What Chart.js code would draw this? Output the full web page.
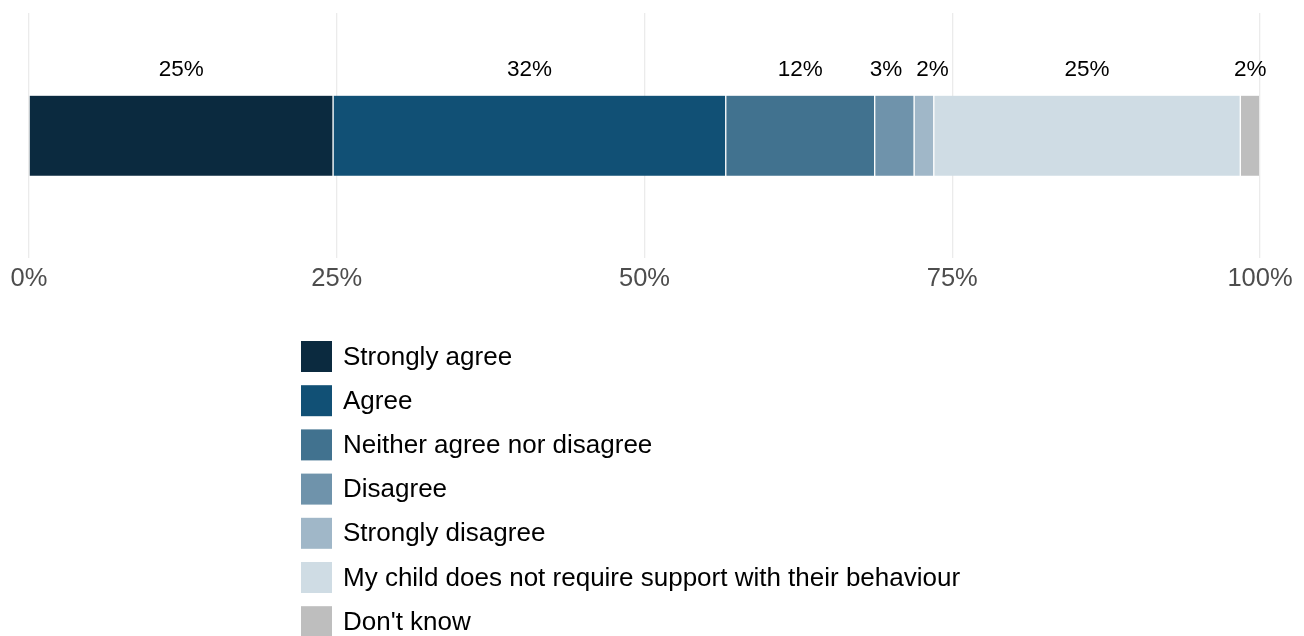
<!DOCTYPE html>
<html>
<head>
<meta charset="utf-8">
<script src="https://cdn.jsdelivr.net/npm/chart.js"></script>
<style>
  html, body { margin: 0; padding: 0; background: #fff; }
  #wrap { width: 1304px; height: 636px; }
</style>
</head>
<body>
<div id="wrap"><canvas id="barChart"></canvas></div>
<script>
var categories = [""];
var responses = [
  "Strongly agree",
  "Agree",
  "Neither agree nor disagree",
  "Disagree",
  "Strongly disagree",
  "My child does not require support with their behaviour",
  "Don't know"
];
var shares = [24.7, 31.9, 12.1, 3.2, 1.6, 24.9, 1.6];
var colours = ["#0b2a3f", "#115075", "#41728f", "#6f93ab", "#a0b7c8", "#cfdce4", "#bebebe"];
var xTicks = [0, 25, 50, 75, 100];

var FONT = "'Liberation Sans', Arial, sans-serif";

// percentage labels above each segment, pushed apart when they collide
var valueLabels = {
  id: "valueLabels",
  afterDatasetsDraw: function (chart) {
    var ctx = chart.ctx;
    ctx.save();
    ctx.font = "22.5px " + FONT;
    ctx.fillStyle = "#000";
    ctx.textAlign = "center";
    ctx.textBaseline = "alphabetic";
    var items = chart.data.datasets.map(function (ds, i) {
      var bar = chart.getDatasetMeta(i).data[0];
      var text = Math.round(ds.data[0]) + "%";
      return {
        text: text,
        x: (bar.x + bar.base) / 2,
        w: ctx.measureText(text).width,
        y: bar.y - bar.height / 2 - 20
      };
    });
    var gap = 14;
    for (var pass = 0; pass < 5; pass++) {
      for (var i = 1; i < items.length; i++) {
        var a = items[i - 1], b = items[i];
        var need = a.w / 2 + b.w / 2 + gap - (b.x - a.x);
        if (need > 0) { a.x -= need / 2; b.x += need / 2; }
      }
    }
    items.forEach(function (it) { ctx.fillText(it.text, it.x, it.y); });
    ctx.restore();
  }
};

// one-column legend under the axis
var columnLegend = {
  id: "columnLegend",
  afterDraw: function (chart) {
    var ctx = chart.ctx;
    var left = 301, top = 341, box = 31, step = 44.2;
    ctx.save();
    ctx.font = "26px " + FONT;
    ctx.textAlign = "left";
    ctx.textBaseline = "middle";
    chart.data.datasets.forEach(function (ds, i) {
      var y = top + i * step;
      ctx.fillStyle = ds.backgroundColor;
      ctx.fillRect(left, y, box, box);
      ctx.fillStyle = "#000";
      ctx.fillText(ds.label, left + box + 11, y + box / 2 + 1);
    });
    ctx.restore();
  }
};

new Chart("barChart", {
  type: "bar",
  data: {
    labels: categories,
    datasets: responses.map(function (name, i) {
      return {
        label: name,
        data: [shares[i]],
        backgroundColor: colours[i],
        borderColor: "#ffffff",
        // white seams between segments; the first one sits flush on the axis
        borderWidth: { left: i === 0 ? 0 : 1, right: 1, top: 0, bottom: 0 },
        borderSkipped: false,
        barThickness: 80
      };
    })
  },
  options: {
    indexAxis: "y",
    responsive: true,
    maintainAspectRatio: false,
    animation: false,
    layout: { padding: { left: 29, right: 44, top: 13, bottom: 337 } },
    plugins: {
      legend: { display: false },
      tooltip: { enabled: false }
    },
    scales: {
      x: {
        stacked: true,
        min: 0,
        max: 100,
        afterBuildTicks: function (scale) {
          scale.ticks = xTicks.map(function (v) { return { value: v }; });
        },
        grid: { color: "#ebebeb", lineWidth: 1.3, drawTicks: false },
        border: { display: false },
        ticks: {
          color: "#4d4d4d",
          font: { size: 25.5, family: FONT },
          padding: 5,
          callback: function (v) { return v + "%"; }
        }
      },
      y: { stacked: true, display: false }
    }
  },
  plugins: [valueLabels, columnLegend]
});
</script>
</body>
</html>
